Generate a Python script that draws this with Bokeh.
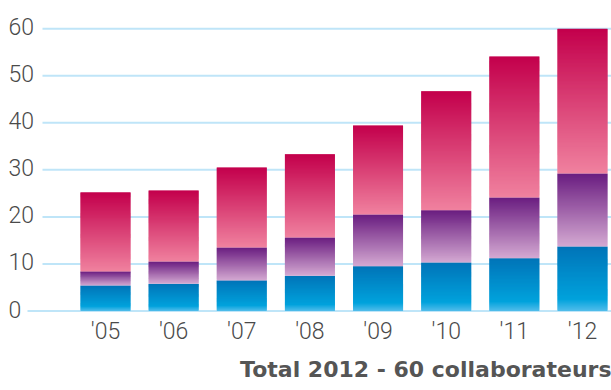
import numpy as np
from bokeh.plotting import figure
from bokeh.models import Range1d, FixedTicker, Title, ColumnDataSource
from bokeh.embed import file_html
from bokeh.resources import INLINE
from bokeh.core.properties import value

# ---- data ----
years = ["'05", "'06", "'07", "'08", "'09", "'10", "'11", "'12"]
blue_vals = [5.4, 5.8, 6.5, 7.5, 9.5, 10.3, 11.2, 13.7]
purple_vals = [3.0, 4.7, 7.0, 8.1, 11.0, 11.1, 12.9, 15.5]
pink_vals = [16.8, 15.1, 17.0, 17.7, 18.9, 25.3, 30.0, 30.8]
y_ticks = [0, 10, 20, 30, 40, 50, 60]
y_tick_labels = ["0", "10", "20", "30", "40", "50", "60"]
title_text = "Total 2012 - 60 collaborateurs"

# ---- layout helpers ----
W, H = 611, 390
UNIT = 68.14            # px per category step
PX_PER_Y = 4.705        # px per y unit
X0 = -105.0 / UNIT      # data x at left canvas edge
X1 = X0 + W / UNIT
FRAME_BOTTOM = 319
Y0 = -(FRAME_BOTTOM - 310.5) / PX_PER_Y
Y1 = 310.5 / PX_PER_Y
BAR_W = 50.0 / UNIT

def px(v):
    return X0 + v / UNIT

# gradient stops (fraction from bottom, colour)
blue_stops = [(0.0, "#52BDEB"), (0.18, "#00A2DC"), (1.0, "#0074B8")]
purple_stops = [(0.0, "#D4A9D2"), (1.0, "#6A1D80")]
pink_stops = [(0.0, "#F0829F"), (1.0, "#C3004C")]

def hex2rgb(h):
    h = h.lstrip("#")
    return np.array([int(h[i:i + 2], 16) for i in (0, 2, 4)], dtype=float)

def interp(stops, t):
    for (t0, c0), (t1, c1) in zip(stops[:-1], stops[1:]):
        if t <= t1:
            f = 0 if t1 == t0 else (t - t0) / (t1 - t0)
            c = hex2rgb(c0) * (1 - f) + hex2rgb(c1) * f
            return "#%02x%02x%02x" % tuple(int(round(v)) for v in c)
    return stops[-1][1]

p = figure(width=W, height=H, x_range=Range1d(X0, X1), y_range=Range1d(Y0, Y1),
           output_backend="svg", toolbar_location=None,
           min_border_left=0, min_border_right=0, min_border_top=0,
           min_border_bottom=H - FRAME_BOTTOM)
p.outline_line_color = None
p.background_fill_color = "white"
p.border_fill_color = "white"
p.yaxis.visible = False
p.xgrid.visible = False
p.ygrid.visible = False

# grid lines
for t in y_ticks:
    start = px(27) if t == 0 else px(42)
    p.segment(x0=[start], x1=[X1], y0=[t], y1=[t], line_color="#BFE5F8", line_width=2)

# stacked gradient bars (fine slices, ~1px each, slightly overlapping)
SLICE = 1.0 / PX_PER_Y
OVER = 0.8 / PX_PER_Y
xs = list(range(len(years)))
series = [(blue_vals, blue_stops), (purple_vals, purple_stops), (pink_vals, pink_stops)]
base = np.zeros(len(years))
for vals, stops in series:
    vals = np.array(vals, dtype=float)
    bx, bb, bt, bc = [], [], [], []
    for i in range(len(years)):
        n = max(1, int(np.ceil(vals[i] / SLICE)))
        for k in range(n):
            bx.append(xs[i])
            bb.append(base[i] + vals[i] * k / n)
            top = base[i] + vals[i] * (k + 1) / n
            if k < n - 1:
                top += OVER
            bt.append(top)
            bc.append(interp(stops, (k + 0.5) / n))
    src = ColumnDataSource(dict(x=bx, bottom=bb, top=bt, color=bc))
    p.vbar(x="x", width=BAR_W, bottom="bottom", top="top", fill_color="color",
           line_color=None, source=src)
    base = base + vals

# y labels
p.text(x=[px(8)] * len(y_ticks), y=y_ticks, text=y_tick_labels,
       text_font=value("Roboto Light"), text_font_size="23px", text_color="#4a4a4a",
       text_baseline="middle", text_align="left", y_offset=-2)

# x axis
p.xaxis.ticker = FixedTicker(ticks=xs)
p.xaxis.major_label_overrides = {i: y for i, y in enumerate(years)}
p.xaxis.axis_line_color = None
p.xaxis.major_tick_line_color = None
p.xaxis.minor_tick_line_color = None
p.xaxis.major_tick_out = 0
p.xaxis.major_tick_in = 0
p.xaxis.major_label_text_font = "Roboto Light"
p.xaxis.major_label_text_font_size = "23px"
p.xaxis.major_label_text_color = "#4a4a4a"
p.xaxis.major_label_standoff = -2

p.add_layout(Title(text=title_text, align="right", text_font="DejaVu Sans",
                   text_font_size="22px", text_font_style="bold",
                   text_color="#555555", standoff=15), "below")

open("out.html", "w").write(file_html(p, INLINE))
